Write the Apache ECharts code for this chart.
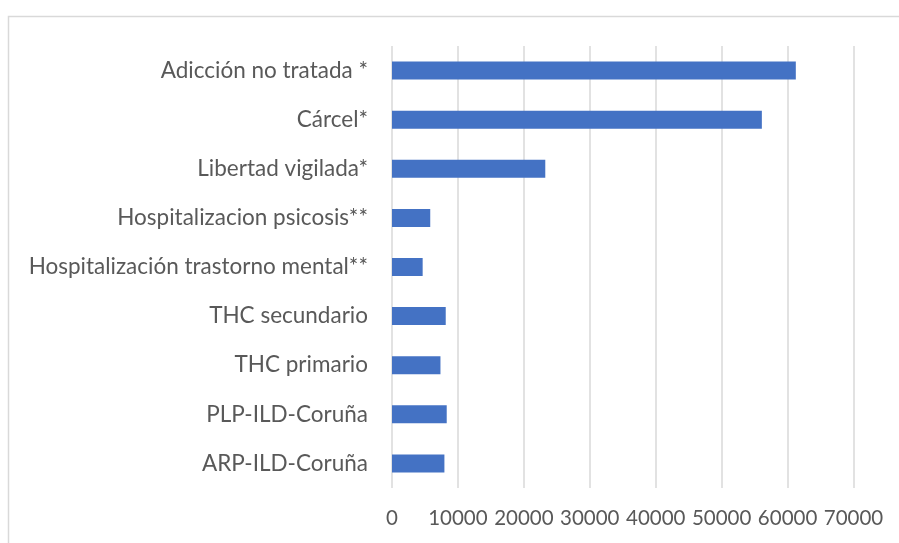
<!DOCTYPE html>
<html>
<head>
<meta charset="utf-8">
<script src="https://cdn.jsdelivr.net/npm/echarts@6/dist/echarts.min.js"></script>
<style>
  html, body { margin: 0; padding: 0; background: #fff; }
  #chart { width: 899px; height: 543px; }
</style>
</head>
<body>
<div id="chart"></div>
<script>
const categories = [
  'Adicción no tratada *',
  'Cárcel*',
  'Libertad vigilada*',
  'Hospitalizacion psicosis**',
  'Hospitalización trastorno mental**',
  'THC secundario',
  'THC primario',
  'PLP-ILD-Coruña',
  'ARP-ILD-Coruña'
]
const values = [61250, 56100, 23250, 5800, 4650, 8150, 7350, 8300, 7950]
const xTicks = [0, 10000, 20000, 30000, 40000, 50000, 60000, 70000]

const FONT = 'Lato, "Open Sans", sans-serif'
const TEXT = '#595959'
const GRID = '#d9d9d9'

const chart = echarts.init(document.getElementById('chart'), null, { renderer: 'canvas' })

chart.setOption({
  animation: false,
  backgroundColor: '#fff',
  graphic: [{
    type: 'rect',
    shape: { x: 8.5, y: 16.5, width: 1000, height: 1000 },
    style: { fill: 'none', stroke: GRID, lineWidth: 1.5 },
    silent: true
  }],
  grid: { left: 392, right: 45.5, top: 46, bottom: 55, containLabel: false },
  xAxis: {
    type: 'value',
    min: xTicks[0],
    max: xTicks[xTicks.length - 1],
    interval: 10000,
    axisLine: { show: false },
    axisTick: { show: false },
    splitLine: { show: true, lineStyle: { color: GRID, width: 1.5 } },
    axisLabel: {
      color: TEXT, fontFamily: FONT, fontSize: 20.5, margin: 20,
      formatter: v => String(v)
    }
  },
  yAxis: {
    type: 'category',
    inverse: true,
    data: categories,
    axisLine: { show: false },
    axisTick: { show: false },
    axisLabel: { color: TEXT, fontFamily: FONT, fontSize: 22.5, margin: 24 }
  },
  series: [{
    type: 'bar',
    data: values,
    barWidth: 18,
    itemStyle: { color: '#4472C4' }
  }]
})
</script>
</body>
</html>
